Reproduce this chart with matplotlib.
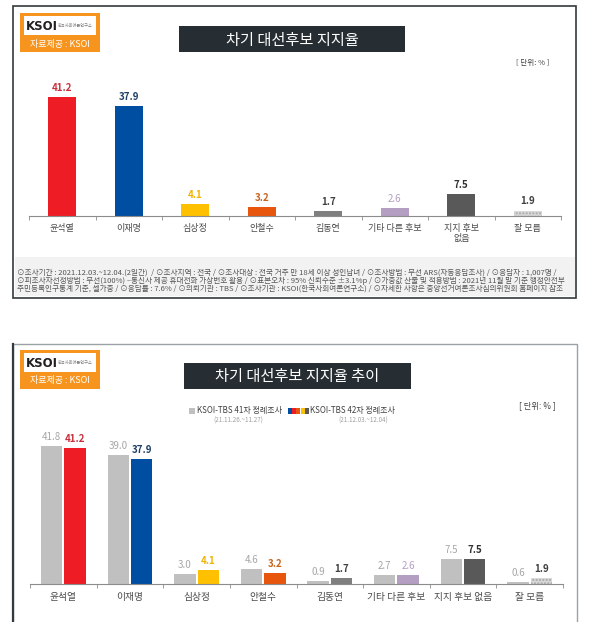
import matplotlib
matplotlib.use("Agg")
import matplotlib.pyplot as plt
from matplotlib.patches import Rectangle

plt.rcParams['font.family'] = ['Noto Sans CJK KR', 'DejaVu Sans']

W, H = 590, 622

# data
cands_top = ['윤석열', '이재명', '심상정', '안철수', '김동연', '기타 다른 후보', '지지 후보\n없음', '잘 모름']
cands_bot = ['윤석열', '이재명', '심상정', '안철수', '김동연', '기타 다른 후보', '지지 후보 없음', '잘 모름']
now_vals = [41.2, 37.9, 4.1, 3.2, 1.7, 2.6, 7.5, 1.9]
prev_vals = [41.8, 39.0, 3.0, 4.6, 0.9, 2.7, 7.5, 0.6]
bar_colors = ['#ee1c25', '#004ea2', '#ffc000', '#e8560e', '#7f7f7f', '#b49fc2', '#595959', '#d9d9d9']
label_colors = ['#c8303c', '#1f3f66', '#f0b400', '#c8641e', '#404040', '#b49fc2', '#303030', '#404040']
label_bold = [True, True, True, True, True, False, True, True]
prev_color = '#c0c0c0'

footnote = [
    "⊙조사기간 : 2021.12.03.~12.04.(2일간)  / ⊙조사지역 : 전국 / ⊙조사대상 : 전국 거주 만 18세 이상 성인남녀 / ⊙조사방법 : 무선 ARS(자동응답조사) / ⊙응답자 : 1,007명 /",
    "⊙피조사자선정방법 : 무선(100%) –통신사 제공 휴대전화 가상번호 활용 / ⊙표본오차 : 95% 신뢰수준 ±3.1%p / ⊙가중값 산출 및 적용방법 : 2021년 11월 말 기준 행정안전부",
    "주민등록인구통계 기준, 셀가중 / ⊙응답률 : 7.6% / ⊙의뢰기관 : TBS / ⊙조사기관 : KSOI(한국사회여론연구소) / ⊙자세한 사항은 중앙선거여론조사심의위원회 홈페이지 참조",
]

fig = plt.figure(figsize=(W / 100, H / 100), dpi=100)
fig.patch.set_facecolor('white')


def rect(x0, y0, x1, y1, z=2, **kw):
    r = Rectangle((x0 / W, 1 - y1 / H), (x1 - x0) / W, (y1 - y0) / H,
                  transform=fig.transFigure, zorder=z, **kw)
    fig.add_artist(r)


def txt(x, y, s, **kw):
    fig.text(x / W, 1 - y / H, s, **kw)


def logo(y0):
    rect(20, y0, 100, y0 + 39, facecolor='#f7941d', edgecolor='none')
    rect(24, y0 + 3, 96, y0 + 22, facecolor='white', edgecolor='none')
    txt(26, y0 + 13, 'KSOI', fontsize=8.5, fontweight='bold', color='#231f20', va='center',
        family='DejaVu Sans', zorder=3)
    txt(58, y0 + 13, '한국사회여론연구소', fontsize=3, color='#808080', va='center', zorder=3)
    txt(60, y0 + 31, '자료제공 : KSOI', fontsize=6.5, color='white', ha='center', va='center', zorder=3)


def title(x0, x1, y0, y1, s):
    rect(x0, y0, x1, y1, facecolor='#262e33', edgecolor='none')
    txt((x0 + x1) / 2, (y0 + y1) / 2 + 1, s, fontsize=11, color='white', ha='center', va='center', zorder=3)


def style_axis(ax, labels, fs, pad):
    ax.set_xlim(-0.5, 7.5)
    ax.set_ylim(0, 50)
    for s in ['top', 'right', 'left']:
        ax.spines[s].set_visible(False)
    ax.spines['bottom'].set_color('#8c8c8c')
    ax.set_yticks([])
    ax.set_xticks(range(8))
    ax.set_xticklabels(labels, fontsize=fs, color='#4a4a4a', linespacing=1.1)
    ax.tick_params(axis='x', which='major', length=0, pad=pad)
    ax.set_xticks([i - 0.5 for i in range(9)], minor=True)
    ax.tick_params(axis='x', which='minor', length=3, color='#8c8c8c')
    ax.patch.set_alpha(0)
    ax.set_zorder(5)


# ---------- top panel ----------
rect(13, 6, 576, 298, z=-2, facecolor='white', edgecolor='#33393d', lw=1.2)
rect(15, 257, 575, 296, z=-1, facecolor='#f2f2f2', edgecolor='none')
logo(13)
title(179, 405, 26, 52, '차기 대선후보 지지율')
txt(533, 63, '[ 단위: % ]', fontsize=5.5, color='#404040', ha='center', va='center')

ax1 = fig.add_axes([29 / W, 1 - 216 / H, 532 / W, 144.5 / H])
xs = range(len(now_vals))
bars = ax1.bar(xs, now_vals, width=0.42, color=bar_colors)
bars[7].set_hatch('.....')
bars[7].set_edgecolor('#a6a6a6')
bars[7].set_linewidth(0)
for i, v in enumerate(now_vals):
    ax1.annotate(f'{v:.1f}', (i, v), xytext=(0, 3), textcoords='offset points',
                 ha='center', va='bottom', fontsize=7, color=label_colors[i],
                 fontweight='bold' if label_bold[i] else 'normal')
style_axis(ax1, cands_top, 6.5, 6)

for k, line in enumerate(footnote):
    txt(17, 273 + k * 7.7, line, fontsize=5.5, color='#555555', va='center')

# ---------- bottom panel ----------
rect(13, 344, 577, 640, z=-2, facecolor='white', edgecolor='#9aa2a6', lw=1.0)
fig.add_artist(plt.Line2D([13 / W, 13 / W], [1 - 344 / H, 0], transform=fig.transFigure,
                          color='#33393d', lw=1.6, zorder=-1))
logo(350)
title(184, 411, 363, 389, '차기 대선후보 지지율 추이')

# legend
rect(189, 408, 195, 414, facecolor=prev_color, edgecolor='none')
txt(197, 411, 'KSOI-TBS 41차 정례조사', fontsize=5.8, color='#404040', va='center')
txt(238, 421, '(21.11.26.~11.27)', fontsize=4.5, color='#a0a0a0', ha='center', va='center')
for j, c in enumerate(['#004ea2', '#ee1c25', '#e8560e', '#ffc000', '#595959']):
    rect(288 + j * 4.2, 408, 292 + j * 4.2, 414, facecolor=c, edgecolor='none')
txt(310, 411, 'KSOI-TBS 42차 정례조사', fontsize=5.8, color='#404040', va='center')
txt(363, 421, '(21.12.03.~12.04)', fontsize=4.5, color='#a0a0a0', ha='center', va='center')
txt(537, 406, '[ 단위: % ]', fontsize=6, color='#404040', ha='center', va='center')

ax2 = fig.add_axes([30 / W, 1 - 584 / H, 533 / W, 165 / H])
off, bw = 0.175, 0.32
ax2.bar([i - off for i in xs], prev_vals, width=bw, color=prev_color)
bars2 = ax2.bar([i + off for i in xs], now_vals, width=bw, color=bar_colors)
bars2[7].set_hatch('.....')
bars2[7].set_edgecolor('#a6a6a6')
bars2[7].set_linewidth(0)
for i in xs:
    ax2.annotate(f'{prev_vals[i]:.1f}', (i - off, prev_vals[i]), xytext=(0, 3),
                 textcoords='offset points', ha='center', va='bottom', fontsize=7, color='#a6a6a6')
    ax2.annotate(f'{now_vals[i]:.1f}', (i + off, now_vals[i]), xytext=(0, 3),
                 textcoords='offset points', ha='center', va='bottom', fontsize=7,
                 color=label_colors[i], fontweight='bold' if label_bold[i] else 'normal')
style_axis(ax2, cands_bot, 7, 5.5)

fig.savefig('out.png', dpi=100)
